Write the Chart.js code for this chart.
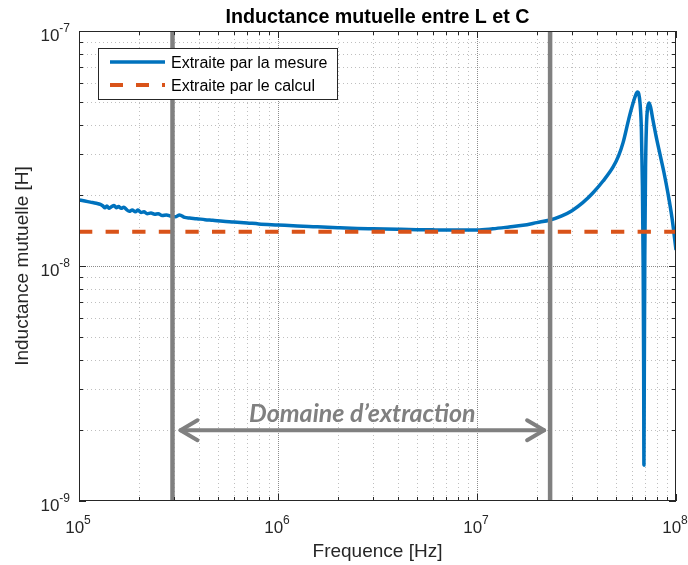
<!DOCTYPE html>
<html>
<head>
<meta charset="utf-8">
<script src="https://cdn.jsdelivr.net/npm/chart.js@4"></script>
<style>
  html, body { margin: 0; padding: 0; background: #fff; }
  canvas { display: block; }
</style>
</head>
<body>
<canvas id="c" width="688" height="565"></canvas>
<script>
// Mutual inductance extracted from measurement (frequency in Hz, inductance in H)
const freqHz = [
  1.00e5, 1.07e5, 1.14e5, 1.22e5, 1.28e5, 1.32e5, 1.35e5, 1.38e5, 1.42e5, 1.46e5,
  1.50e5, 1.54e5, 1.58e5, 1.63e5, 1.68e5, 1.73e5, 1.79e5, 1.85e5, 1.92e5, 1.98e5,
  2.05e5, 2.12e5, 2.20e5, 2.30e5, 2.40e5, 2.50e5, 2.62e5, 2.75e5, 2.90e5, 3.05e5,
  3.20e5, 3.40e5, 3.60e5, 3.90e5, 4.30e5, 4.70e5, 5.30e5, 6.00e5, 7.00e5, 8.00e5,
  1.00e6, 1.25e6, 1.50e6, 2.00e6, 2.50e6, 3.00e6, 4.00e6, 5.00e6, 6.00e6, 7.50e6,
  1.00e7, 1.20e7, 1.45e7, 1.70e7, 2.00e7, 2.33e7, 2.65e7, 3.00e7, 3.40e7, 3.83e7,
  4.30e7, 4.83e7, 5.15e7, 5.42e7, 5.80e7, 6.05e7, 6.25e7, 6.40e7, 6.50e7, 6.60e7,
  6.70e7, 6.78e7, 6.84e7, 6.88e7, 6.90e7, 6.93e7, 6.97e7, 7.03e7, 7.10e7, 7.20e7,
  7.32e7, 7.45e7, 7.65e7, 7.95e7, 8.30e7, 8.70e7, 9.10e7, 9.55e7, 1.00e8
];
const mutualH = [
  1.91e-8, 1.89e-8, 1.87e-8, 1.85e-8, 1.83e-8, 1.80e-8, 1.77e-8, 1.80e-8, 1.76e-8, 1.79e-8,
  1.81e-8, 1.77e-8, 1.79e-8, 1.76e-8, 1.78e-8, 1.74e-8, 1.71e-8, 1.73e-8, 1.70e-8, 1.73e-8,
  1.69e-8, 1.70e-8, 1.67e-8, 1.68e-8, 1.66e-8, 1.67e-8, 1.64e-8, 1.65e-8, 1.63e-8, 1.62e-8,
  1.65e-8, 1.61e-8, 1.60e-8, 1.59e-8, 1.575e-8, 1.565e-8, 1.55e-8, 1.54e-8, 1.525e-8, 1.51e-8,
  1.495e-8, 1.48e-8, 1.47e-8, 1.455e-8, 1.445e-8, 1.44e-8, 1.433e-8, 1.428e-8, 1.425e-8, 1.423e-8,
  1.423e-8, 1.44e-8, 1.466e-8, 1.49e-8, 1.53e-8, 1.57e-8, 1.63e-8, 1.72e-8, 1.86e-8, 2.05e-8,
  2.30e-8, 2.64e-8, 2.95e-8, 3.35e-8, 4.25e-8, 4.85e-8, 5.30e-8, 5.50e-8, 5.40e-8, 4.90e-8,
  3.80e-8, 2.20e-8, 1.00e-8, 3.5e-9, 1.42e-9, 3.5e-9, 1.10e-8, 2.60e-8, 3.90e-8, 4.70e-8,
  4.94e-8, 4.75e-8, 4.20e-8, 3.55e-8, 3.00e-8, 2.50e-8, 2.05e-8, 1.60e-8, 1.17e-8
];

// Mutual inductance obtained by calculation (constant)
const calcFreqHz = [1e5, 1e8];
const calcMutualH = [1.4e-8, 1.4e-8];

// Extraction domain bounds and the level of the annotation arrow
const extractionBoundsHz = [2.95e5, 2.33e7];
const arrowLevelH = 2.0e-9;

// Axis decades
const xTickExponents = [5, 6, 7, 8];
const yTickExponents = [-9, -8, -7];

const seriesLabels = ['Extraite par la mesure', 'Extraite par le calcul'];
const titleText = 'Inductance mutuelle entre L et C';
const xTitle = 'Frequence [Hz]';
const yTitle = 'Inductance mutuelle [H]';
const annotationText = 'Domaine d\u2019extraction';

const BLUE = '#0072BD';
const RED = '#D95319';
const GRAY = '#808080';
const INK = '#262626';
const FONT = '"Liberation Sans", Arial, sans-serif';

function logMarks(exps) {
  const major = [], minor = [];
  for (let i = 0; i < exps.length; i++) {
    const base = Math.pow(10, exps[i]);
    major.push(base);
    if (i < exps.length - 1) for (let k = 2; k <= 9; k++) minor.push(k * base);
  }
  return { major, minor };
}
const xMarks = logMarks(xTickExponents);
const yMarks = logMarks(yTickExponents);

function seg(ctx, x1, y1, x2, y2) {
  ctx.beginPath(); ctx.moveTo(x1, y1); ctx.lineTo(x2, y2); ctx.stroke();
}

// Dotted grid under the curves
const gridPlugin = {
  id: 'logGrid',
  beforeDatasetsDraw(chart) {
    const { ctx, chartArea: a, scales: { x, y } } = chart;
    ctx.save();
    ctx.lineWidth = 1;
    ctx.setLineDash([1, 3]);
    ctx.strokeStyle = 'rgba(0,0,0,0.25)';
    xMarks.minor.forEach(v => { const p = Math.round(x.getPixelForValue(v)) + 0.5; seg(ctx, p, a.top, p, a.bottom); });
    yMarks.minor.forEach(v => { const p = Math.round(y.getPixelForValue(v)) + 0.5; seg(ctx, a.left, p, a.right, p); });
    ctx.setLineDash([1, 1]);
    ctx.strokeStyle = 'rgba(0,0,0,0.45)';
    xMarks.major.slice(1, -1).forEach(v => { const p = Math.round(x.getPixelForValue(v)) + 0.5; seg(ctx, p, a.top, p, a.bottom); });
    yMarks.major.slice(1, -1).forEach(v => { const p = Math.round(y.getPixelForValue(v)) + 0.5; seg(ctx, a.left, p, a.right, p); });
    ctx.restore();
  }
};

// Extraction bounds, annotation, axes box, ticks, labels, legend
const decorPlugin = {
  id: 'decor',
  afterDatasetsDraw(chart) {
    const { ctx, chartArea: a, scales: { x, y } } = chart;
    ctx.save();

    // vertical bounds of the extraction domain
    ctx.strokeStyle = GRAY;
    ctx.lineWidth = 4.5;
    extractionBoundsHz.forEach(v => { const p = x.getPixelForValue(v); seg(ctx, p, a.top, p, a.bottom); });

    // double arrow
    const ay = y.getPixelForValue(arrowLevelH);
    const ax1 = x.getPixelForValue(extractionBoundsHz[0]) + 8;
    const ax2 = x.getPixelForValue(extractionBoundsHz[1]) - 6;
    ctx.lineWidth = 4;
    ctx.lineCap = 'round';
    ctx.lineJoin = 'round';
    seg(ctx, ax1, ay, ax2, ay);
    ctx.beginPath();
    ctx.moveTo(ax1 + 17, ay - 10); ctx.lineTo(ax1, ay); ctx.lineTo(ax1 + 17, ay + 10);
    ctx.moveTo(ax2 - 17, ay - 10); ctx.lineTo(ax2, ay); ctx.lineTo(ax2 - 17, ay + 10);
    ctx.stroke();
    ctx.lineCap = 'butt';
    ctx.lineJoin = 'miter';

    ctx.fillStyle = GRAY;
    ctx.font = 'italic bold 25px Lato, "Open Sans", sans-serif';
    ctx.textAlign = 'center';
    ctx.textBaseline = 'alphabetic';
    ctx.fillText(annotationText, (ax1 + ax2) / 2, ay - 8);

    // axes box
    ctx.strokeStyle = INK;
    ctx.lineWidth = 1;
    ctx.strokeRect(Math.round(a.left) + 0.5, Math.round(a.top) + 0.5,
                   Math.round(a.right - a.left) - 1, Math.round(a.bottom - a.top) - 1);

    // inward ticks on all four sides
    const tick = (vals, len) => {
      vals.forEach(v => {
        const p = Math.round(x.getPixelForValue(v)) + 0.5;
        seg(ctx, p, a.bottom, p, a.bottom - len);
        seg(ctx, p, a.top, p, a.top + len);
      });
    };
    const ticky = (vals, len) => {
      vals.forEach(v => {
        const p = Math.round(y.getPixelForValue(v)) + 0.5;
        seg(ctx, a.left, p, a.left + len, p);
        seg(ctx, a.right, p, a.right - len, p);
      });
    };
    tick(xMarks.minor, 4); tick(xMarks.major, 7);
    ticky(yMarks.minor, 4); ticky(yMarks.major, 7);

    // tick labels as powers of ten
    ctx.fillStyle = INK;
    const baseFont = '17px ' + FONT;
    const supFont = '12px ' + FONT;
    xTickExponents.forEach(e => {
      const p = x.getPixelForValue(Math.pow(10, e));
      ctx.font = baseFont; const w1 = ctx.measureText('10').width;
      ctx.font = supFont; const w2 = ctx.measureText(String(e)).width;
      const start = p - (w1 + w2) / 2 - 1;
      ctx.textAlign = 'left';
      ctx.font = baseFont; ctx.fillText('10', start, a.bottom + 32);
      ctx.font = supFont; ctx.fillText(String(e), start + w1, a.bottom + 23);
    });
    yTickExponents.forEach(e => {
      const p = y.getPixelForValue(Math.pow(10, e));
      const sup = '-' + Math.abs(e);
      ctx.font = supFont; const w2 = ctx.measureText(sup).width;
      ctx.font = baseFont; const w1 = ctx.measureText('10').width;
      const end = a.left - 9;
      ctx.textAlign = 'left';
      ctx.fillText('10', end - w2 - w1, p + 9.5);
      ctx.font = supFont; ctx.fillText(sup, end - w2, p + 0.5);
    });

    // axis titles
    ctx.font = '19px ' + FONT;
    ctx.textAlign = 'center';
    ctx.fillText(xTitle, (a.left + a.right) / 2, a.bottom + 56);
    ctx.save();
    ctx.translate(28, (a.top + a.bottom) / 2);
    ctx.rotate(-Math.PI / 2);
    ctx.fillText(yTitle, 0, 0);
    ctx.restore();

    // title
    ctx.fillStyle = '#000';
    ctx.font = 'bold 19.7px ' + FONT;
    ctx.fillText(titleText, (a.left + a.right) / 2, a.top - 8);

    // legend
    const lx = 98.5, ly = 48.5, lw = 239, lh = 51;
    ctx.fillStyle = '#fff';
    ctx.fillRect(lx, ly, lw, lh);
    ctx.strokeStyle = INK;
    ctx.lineWidth = 1;
    ctx.strokeRect(lx, ly, lw, lh);
    ctx.lineWidth = 3.5;
    ctx.strokeStyle = BLUE;
    seg(ctx, 110, 62, 165, 62);
    ctx.lineWidth = 4;
    ctx.strokeStyle = RED;
    ctx.setLineDash([13, 13]);
    seg(ctx, 110, 85, 165, 85);
    ctx.setLineDash([]);
    ctx.fillStyle = '#000';
    ctx.font = '16px ' + FONT;
    ctx.textAlign = 'left';
    ctx.fillText(seriesLabels[0], 171, 68);
    ctx.fillText(seriesLabels[1], 171, 91);

    ctx.restore();
  }
};

const measured = freqHz.map((f, i) => ({ x: f, y: mutualH[i] }));
const calculated = calcFreqHz.map((f, i) => ({ x: f, y: calcMutualH[i] }));

new Chart(document.getElementById('c'), {
  type: 'line',
  data: {
    datasets: [
      { label: seriesLabels[0], data: measured, borderColor: BLUE, borderWidth: 3.5,
        pointRadius: 0, cubicInterpolationMode: 'monotone', order: 2, borderJoinStyle: 'round' },
      { label: seriesLabels[1], data: calculated, borderColor: RED, borderWidth: 4,
        borderDash: [13.3, 13.3], pointRadius: 0, tension: 0, order: 1 }
    ]
  },
  options: {
    responsive: false,
    animation: false,
    events: [],
    layout: { padding: { left: 79, right: 12, top: 31, bottom: 64 } },
    scales: {
      x: { type: 'logarithmic', min: 1e5, max: 1e8, display: false },
      y: { type: 'logarithmic', min: 1e-9, max: 1e-7, display: false }
    },
    plugins: { legend: { display: false }, tooltip: { enabled: false } }
  },
  plugins: [gridPlugin, decorPlugin]
});
</script>
</body>
</html>
